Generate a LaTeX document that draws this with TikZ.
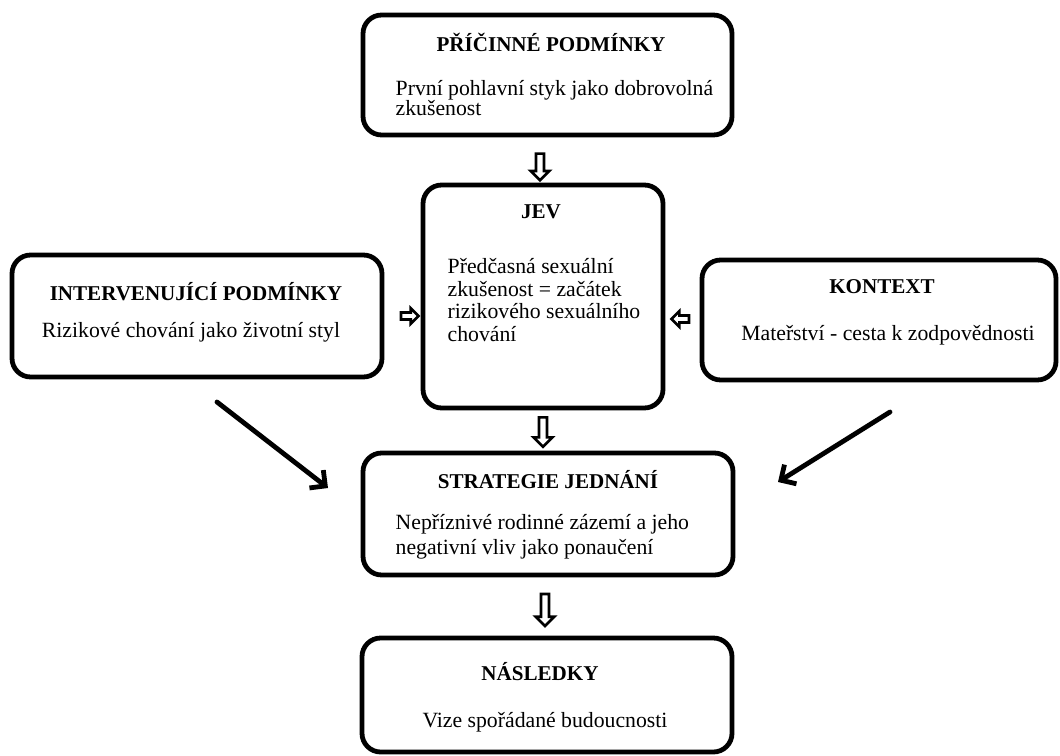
\documentclass[tikz,border=0pt]{standalone}
\usepackage{fontspec}
\setmainfont{Liberation Serif}
\usetikzlibrary{shapes.arrows,arrows.meta}

\tikzset{
  box/.style={draw,line width=3.6pt,rounded corners=14pt,inner sep=0pt},
  heading/.style={font=\fontsize{15.8}{18}\selectfont\bfseries},
  body/.style={font=\fontsize{16.3}{18}\selectfont,align=left},
  blockarrow/.style={single arrow,draw,line width=2pt,inner sep=2pt,
    single arrow head extend=4pt,minimum height=20pt},
  pointer/.style={line width=3.6pt,line cap=round,-{Straight Barb[angle=90:12pt]}}
}

\begin{document}
\begin{tikzpicture}[x=0.75pt,y=-0.75pt]

      \useasboundingbox (0,0) rectangle (1060,756);

      % boxes
      \begin{scope}[every node/.style={box}]
        \node[minimum width=276.75pt,minimum height=90pt]    (cause)    at (547.5,75)  {};
        \node[minimum width=180pt,minimum height=167.25pt]   (jev)      at (543,296.5) {};
        \node[minimum width=277.5pt,minimum height=91.5pt]   (interv)   at (197,316)   {};
        \node[minimum width=265.5pt,minimum height=90pt]     (context)  at (879,320)   {};
        \node[minimum width=277.5pt,minimum height=91.5pt]   (strategy) at (548,514)   {};
        \node[minimum width=277.5pt,minimum height=85.5pt]   (result)   at (547,695)   {};
      \end{scope}

      % texts
      \node[heading] (causeT) at (551,42) {PŘÍČINNÉ PODMÍNKY};
      \node[body,anchor=west,font=\fontsize{16.3}{15}\selectfont] (causeB) at (391,98)
        {První pohlavní styk jako dobrovolná\\zkušenost};
      \node[heading] (jevT) at (541,212) {JEV};
      \node[body,anchor=west,font=\fontsize{16.3}{17}\selectfont] (jevB) at (443,300)
        {Předčasná sexuální\\zkušenost = začátek\\rizikového sexuálního\\chování};
      \node[heading] (intervT) at (196,292) {INTERVENUJÍCÍ PODMÍNKY};
      \node[body] (intervB) at (191,332) {Rizikové chování jako životní styl};
      \node[heading] (contextT) at (882,287) {KONTEXT};
      \node[body] (contextB) at (888,335) {Mateřství - cesta k zodpovědnosti};
      \node[heading] (strategyT) at (548,480) {STRATEGIE JEDNÁNÍ};
      \node[body,anchor=west,font=\fontsize{16.3}{18.5}\selectfont] (strategyB) at (391,537)
        {Nepříznivé rodinné zázemí a jeho\\negativní vliv jako ponaučení};
      \node[heading] (resultT) at (540,672) {NÁSLEDKY};
      \node[body] (resultB) at (545,722) {Vize spořádané budoucnosti};

      % hollow arrows
      \node[blockarrow,rotate=-90] (a1) at (540,165) {};
      \node[blockarrow,rotate=-90,minimum height=22pt] (a2) at (543,430) {};
      \node[blockarrow,rotate=-90,minimum height=24pt] (a3) at (545,608) {};
      \node[blockarrow,minimum height=13pt,inner sep=1.6pt,single arrow head extend=3.2pt] (a4) at (408,316) {};
      \node[blockarrow,rotate=180,minimum height=13pt,inner sep=1.6pt,single arrow head extend=3.2pt] (a5) at (682,319) {};

      % slanted arrows
      \coordinate (inFrom)  at (217,402);
      \coordinate (inTo)    at (328,488);
      \coordinate (ctxFrom) at (890,412);
      \coordinate (ctxTo)   at (778,482);
      \draw[pointer] (inFrom) -- (inTo);
      \draw[pointer] (ctxFrom) -- (ctxTo);

    \end{tikzpicture}
\end{document}
